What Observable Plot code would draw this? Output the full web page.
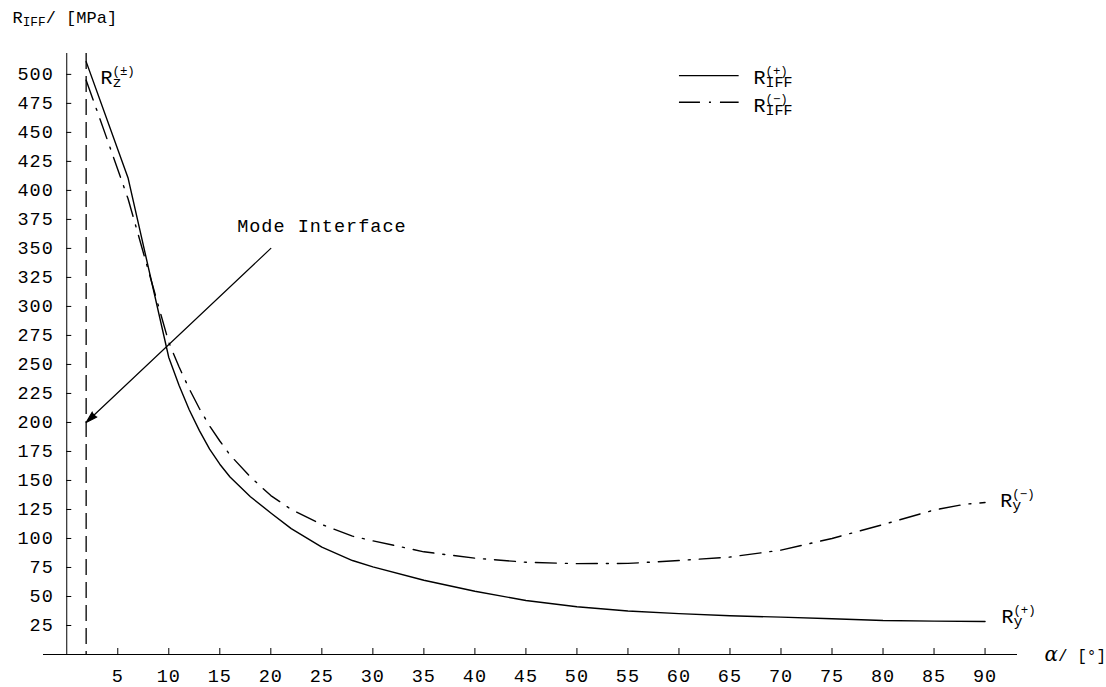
<!DOCTYPE html>
<html>
<head>
<meta charset="utf-8">
<script src="https://cdn.jsdelivr.net/npm/d3@7"></script>
<script src="https://cdn.jsdelivr.net/npm/@observablehq/plot@0.6"></script>
<style>
  html, body { margin: 0; padding: 0; background: #fff; }
  #chart { width: 1106px; height: 687px; }
  #chart g[font-size="18.5"] text { letter-spacing: 1px; }
</style>
</head>
<body>
<div id="chart"></div>
<script>
// ---- data ----
const alphaPlus = [1.9, 6, 10, 11, 12, 13, 14, 15, 16, 18, 20, 22, 25, 28, 30, 35, 40, 45, 50, 55, 60, 65, 70, 75, 80, 85, 90];
const rPlus     = [511, 411, 256, 232, 211, 193, 177, 164, 153, 136, 122, 108.5, 92.5, 81, 75.5, 64, 54.5, 46.5, 41.2, 37.5, 35.2, 33.4, 32.2, 30.8, 29.3, 28.8, 28.4];
const alphaMinus = [1.9, 4, 6, 10, 11, 12, 13, 14, 15, 16, 18, 20, 22, 25, 28, 30, 35, 40, 45, 50, 55, 60, 65, 70, 75, 80, 85, 88, 90];
const rMinus     = [495, 443, 393, 269, 248, 229, 212, 197, 184, 172, 153, 137, 125, 112, 102, 98, 88.5, 83, 79.5, 78.3, 78.5, 81, 84, 90, 100, 112, 124.5, 129.5, 131];
const xTicks = [5, 10, 15, 20, 25, 30, 35, 40, 45, 50, 55, 60, 65, 70, 75, 80, 85, 90];
const yTicks = [25, 50, 75, 100, 125, 150, 175, 200, 225, 250, 275, 300, 325, 350, 375, 400, 425, 450, 475, 500];
const interfaceAlpha = [1.9];
const legendLabels = ["R_{IFF}^{(+)}", "R_{IFF}^{(−)}"];
const yLabel = "R_{IFF}/ [MPa]";
const xLabel = "{i:α}/ [°]";

const plusData = alphaPlus.map((a, i) => ({a, r: rPlus[i]}));
const minusData = alphaMinus.map((a, i) => ({a, r: rMinus[i]}));

const DASHDOT = "21,9,2,9";
const MONO = "'Liberation Mono', 'DejaVu Sans Mono', monospace";

const chart = Plot.plot({
  width: 1106,
  height: 687,
  marginLeft: 43,
  marginRight: 89,
  marginTop: 53,
  marginBottom: 33,
  x: {domain: [-2.28, 93.18], axis: null},
  y: {domain: [0, 518], axis: null},
  style: {fontFamily: MONO, fontSize: "18.5px", background: "#fff", color: "#000", overflow: "visible"},
  marks: [
    // axes
    Plot.ruleY([0], {stroke: "#000", strokeWidth: 1}),
    Plot.ruleX([0], {stroke: "#000", strokeWidth: 1}),
    Plot.ruleX(xTicks, {x: d => d, y1: () => 0, y2: () => 0, insetTop: -6, stroke: "#000"}),
    Plot.ruleY(yTicks, {y: d => d, x1: () => 0, x2: () => 0, insetRight: -5, stroke: "#000"}),
    Plot.text(yTicks, {x: () => 0, y: d => d, text: d => String(d), textAnchor: "end", dx: -13, fontSize: 18.5}),
    Plot.text(xTicks, {x: d => d, y: () => 0, text: d => String(d), dy: 22, fontSize: 18.5}),
    // mode interface line
    Plot.ruleX(interfaceAlpha, {x: d => d, stroke: "#000", strokeWidth: 1.3, strokeDasharray: "16,7"}),
    // curves
    Plot.line(plusData, {x: "a", y: "r", stroke: "#000", strokeWidth: 1.4}),
    Plot.line(minusData, {x: "a", y: "r", stroke: "#000", strokeWidth: 1.4, strokeDasharray: DASHDOT}),
    // legend
    Plot.link([0], {x1: () => 60, x2: () => 65.85, y1: () => 499, y2: () => 499, stroke: "#000", strokeWidth: 1.3}),
    Plot.link([0], {x1: () => 60, x2: () => 65.85, y1: () => 476, y2: () => 476, stroke: "#000", strokeWidth: 1.3, strokeDasharray: DASHDOT}),
    Plot.text([legendLabels[0]], {x: () => 67.3, y: () => 492, text: d => d, textAnchor: "start", lineAnchor: "bottom", fontSize: 20}),
    Plot.text([legendLabels[1]], {x: () => 67.3, y: () => 467.5, text: d => d, textAnchor: "start", lineAnchor: "bottom", fontSize: 20}),
    // curve labels
    Plot.text(["R_{z}^{(±)}"], {x: () => 3.3, y: () => 492, text: d => d, textAnchor: "start", lineAnchor: "bottom", fontSize: 20}),
    Plot.text(["R_{y}^{(−)}"], {x: () => 91.5, y: () => 127, text: d => d, textAnchor: "start", lineAnchor: "bottom", fontSize: 20}),
    Plot.text(["R_{y}^{(+)}"], {x: () => 91.6, y: () => 27, text: d => d, textAnchor: "start", lineAnchor: "bottom", fontSize: 20}),
    // annotation
    Plot.arrow([0], {x1: () => 20, y1: () => 350, x2: () => interfaceAlpha[0], y2: () => 200, stroke: "#000", fill: "#000", strokeWidth: 1.2, headLength: 15, headAngle: 32}),
    Plot.text(["Mode Interface"], {x: () => 16.7, y: () => 364, text: d => d, textAnchor: "start", lineAnchor: "bottom", fontSize: 18.5}),
    // axis titles
    Plot.text([yLabel], {frameAnchor: "top-left", dx: -31, dy: -31, text: d => d, textAnchor: "start", lineAnchor: "bottom", fontSize: 17}),
    Plot.text([xLabel], {frameAnchor: "bottom-right", dx: 27, dy: 6, text: d => d, textAnchor: "start", lineAnchor: "bottom", fontSize: 16})
  ]
});

document.getElementById("chart").appendChild(chart);

// turn the small markup (_{sub}, ^{sup}, {i:italic}) into real tspans
function richify(svg) {
  const ns = "http://www.w3.org/2000/svg";
  const SUB_DROP = 3, SUP_RISE = 9;
  svg.querySelectorAll("text").forEach(t => {
    const s = t.textContent;
    if (!/[_^]\{|\{i:/.test(s)) return;
    while (t.firstChild) t.removeChild(t.firstChild);
    const re = /([_^])\{([^}]*)\}|\{i:([^}]*)\}|([^_^{]+)/g;
    let m, off = 0, prevType = "base", prevWidth = 0;
    while ((m = re.exec(s))) {
      const sp = document.createElementNS(ns, "tspan");
      let target = 0, type = "base";
      if (m[1]) {
        type = m[1] === "_" ? "sub" : "sup";
        sp.textContent = m[2];
        sp.setAttribute("font-size", type === "sub" ? "0.75em" : "0.62em");
        target = type === "sub" ? SUB_DROP : -SUP_RISE;
        if (prevType === "sub" || prevType === "sup") sp.setAttribute("dx", -prevWidth);
      } else if (m[3]) {
        sp.textContent = m[3];
        sp.setAttribute("font-style", "italic");
        sp.setAttribute("font-family", "'DejaVu Serif', 'Liberation Serif', serif");
        sp.setAttribute("font-size", "1.25em");
      } else {
        sp.textContent = m[4];
      }
      if (target - off !== 0) sp.setAttribute("dy", target - off);
      off = target;
      t.appendChild(sp);
      prevWidth = sp.getComputedTextLength();
      prevType = type;
    }
  });
}
richify(chart);
</script>
</body>
</html>
